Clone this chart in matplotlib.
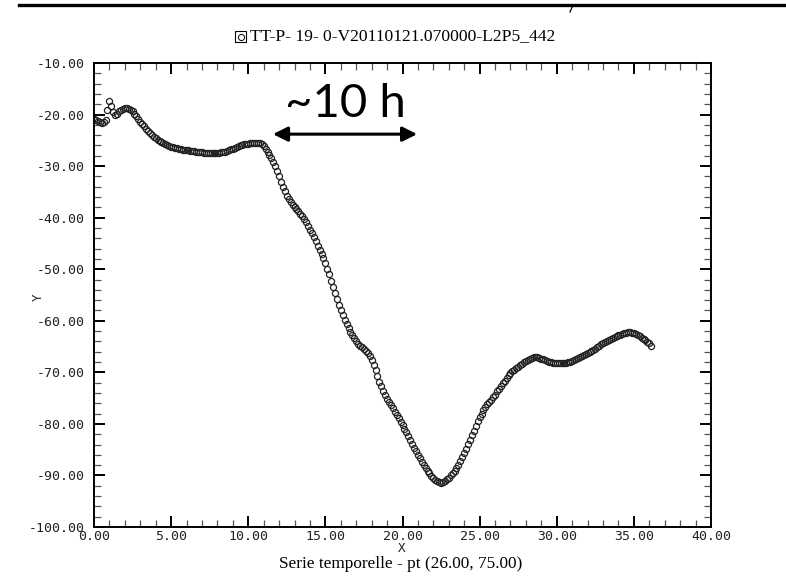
import numpy as np
import matplotlib
matplotlib.use("Agg")
import matplotlib.pyplot as plt
from matplotlib.ticker import MultipleLocator, FormatStrFormatter
from matplotlib.patches import Rectangle
from matplotlib.lines import Line2D

# ---- data ----
dt = 0.125  # hours between samples
y_values = [
    -20.8, -21.1, -21.3, -21.5, -21.6, -21.4, -21.0, -19.2,
    -17.4, -18.3, -19.6, -20.0, -19.8, -19.4, -19.1, -18.9,
    -18.8, -18.8, -18.9, -19.1, -19.4, -19.8, -20.3, -20.8,
    -21.4, -21.9, -22.3, -22.8, -23.2, -23.6, -23.9, -24.3,
    -24.6, -24.9, -25.1, -25.4, -25.6, -25.8, -25.9, -26.1,
    -26.2, -26.3, -26.4, -26.5, -26.6, -26.7, -26.8, -26.8,
    -26.9, -26.9, -27.0, -27.1, -27.1, -27.2, -27.2, -27.3,
    -27.3, -27.4, -27.4, -27.5, -27.5, -27.5, -27.5, -27.5,
    -27.5, -27.4, -27.3, -27.3, -27.2, -27.0, -26.9, -26.7,
    -26.6, -26.4, -26.3, -26.1, -26.0, -25.9, -25.8, -25.8,
    -25.7, -25.6, -25.6, -25.5, -25.5, -25.5, -25.6, -25.8,
    -26.1, -26.6, -27.2, -27.8, -28.4, -29.2, -30.0, -31.0,
    -32.0, -33.0, -34.0, -34.9, -35.8, -36.4, -37.0, -37.5,
    -37.9, -38.4, -38.8, -39.3, -39.7, -40.3, -40.9, -41.6,
    -42.3, -43.0, -43.8, -44.6, -45.5, -46.3, -47.1, -47.9,
    -48.8, -49.9, -51.0, -52.2, -53.4, -54.6, -55.8, -56.9,
    -58.0, -58.9, -59.8, -60.6, -61.4, -62.1, -62.8, -63.4,
    -64.0, -64.5, -64.9, -65.1, -65.4, -65.8, -66.3, -66.9,
    -67.6, -68.6, -69.6, -70.7, -71.8, -72.7, -73.6, -74.4,
    -75.1, -75.8, -76.4, -77.0, -77.6, -78.3, -78.9, -79.6,
    -80.2, -80.9, -81.6, -82.4, -83.1, -83.9, -84.6, -85.3,
    -86.0, -86.7, -87.3, -87.9, -88.5, -89.1, -89.6, -90.1,
    -90.5, -90.8, -91.1, -91.3, -91.4, -91.2, -91.0, -90.7,
    -90.4, -90.0, -89.6, -89.1, -88.5, -87.9, -87.2, -86.4,
    -85.6, -84.8, -83.9, -83.1, -82.2, -81.3, -80.4, -79.5,
    -78.6, -78.0, -77.3, -76.7, -76.2, -75.7, -75.3, -74.8,
    -74.3, -73.7, -73.2, -72.6, -72.1, -71.6, -71.1, -70.6,
    -70.2, -69.8, -69.5, -69.2, -68.9, -68.6, -68.3, -68.0,
    -67.8, -67.6, -67.4, -67.2, -67.1, -67.0, -67.1, -67.2,
    -67.4, -67.5, -67.7, -67.8, -67.9, -68.0, -68.1, -68.2,
    -68.2, -68.2, -68.2, -68.2, -68.2, -68.1, -68.0, -67.9,
    -67.8, -67.6, -67.5, -67.3, -67.1, -66.9, -66.7, -66.5,
    -66.3, -66.1, -65.9, -65.6, -65.4, -65.1, -64.9, -64.6,
    -64.4, -64.2, -63.9, -63.7, -63.5, -63.3, -63.1, -63.0,
    -62.8, -62.7, -62.5, -62.4, -62.3, -62.2, -62.2, -62.3,
    -62.4, -62.6, -62.8, -63.0, -63.3, -63.5, -63.8, -64.1,
    -64.4, -64.8,
]
x_values = np.arange(len(y_values)) * dt

series_name = "TT-P- 19- 0-V20110121.070000-L2P5_442"
x_title = "Serie temporelle - pt (26.00, 75.00)"
annot_text = "~10 h"
annot_x = [11.6, 20.95]
annot_y = -23.8

# ---- figure ----
fig = plt.figure(figsize=(7.86, 5.82), dpi=100)
ax = fig.add_axes([94/786, 1-527/582, (711-94)/786, (527-63)/582])

ax.plot(x_values, y_values, linestyle="none", marker="o", ms=4.4,
        mfc="none", mec="#222222", mew=0.9)

ax.set_xlim(0, 40)
ax.set_ylim(-100, -10)
ax.xaxis.set_major_locator(MultipleLocator(5))
ax.xaxis.set_minor_locator(MultipleLocator(1))
ax.yaxis.set_major_locator(MultipleLocator(10))
ax.yaxis.set_minor_locator(MultipleLocator(2))
ax.xaxis.set_major_formatter(FormatStrFormatter("%.2f"))
ax.yaxis.set_major_formatter(FormatStrFormatter("%.2f"))

ax.tick_params(which="both", direction="in", top=True, right=True)
ax.tick_params(which="major", length=8, width=1.4, color="black")
ax.tick_params(which="minor", length=5, width=0.9, color="#555555")
ax.tick_params(axis="y", which="major", pad=7)
ax.tick_params(axis="x", which="major", pad=2)
for lab in ax.get_xticklabels() + ax.get_yticklabels():
    lab.set_fontfamily("DejaVu Sans Mono")
    lab.set_fontsize(9.5)
    lab.set_color("#222222")
for s in ax.spines.values():
    s.set_linewidth(1.4)
    s.set_color("black")

# axis labels
fig.text(38/786, 1-297/582, "Y", rotation=90, ha="center", va="center",
         fontsize=9, family="DejaVu Sans Mono", color="#222222")
fig.text(402/786, 1-548/582, "X", ha="center", va="center",
         fontsize=9, family="DejaVu Sans Mono", color="#222222")
fig.text(401/786, 1-564/582, x_title, ha="center", va="center",
         fontsize=12.4, family="Liberation Serif", color="black")

# title with legend symbol
fig.text(250/786, 1-36/582, series_name, ha="left", va="center",
         fontsize=12.6, family="Liberation Serif", color="black")
fig.patches.append(Rectangle((235/786, 1-42/582), 11/786, 11/582,
                             transform=fig.transFigure, fill=False,
                             lw=0.8, ec="black"))
fig.lines.append(Line2D([240.5/786], [1-36.5/582], transform=fig.transFigure,
                        marker="o", ms=4.4, mfc="none", mec="black", mew=0.7))

# annotation
ax.annotate("", xy=(annot_x[1], annot_y), xytext=(annot_x[0], annot_y),
            arrowprops=dict(arrowstyle="<|-|>", lw=2.2, color="black",
                            mutation_scale=22, shrinkA=0, shrinkB=0))
ax.text((annot_x[0] + annot_x[1]) / 2, annot_y + 1.8, annot_text,
        ha="center", va="bottom", fontsize=34, family="Lato", color="black")

# top page rule
fig.lines.append(Line2D([19/786, 1.0], [1-5/582, 1-5/582], transform=fig.transFigure,
                        lw=2.4, color="black"))
fig.lines.append(Line2D([573/786, 570/786], [1-5/582, 1-12/582], transform=fig.transFigure,
                        lw=0.9, color="black"))

fig.savefig("out.png", dpi=100)
